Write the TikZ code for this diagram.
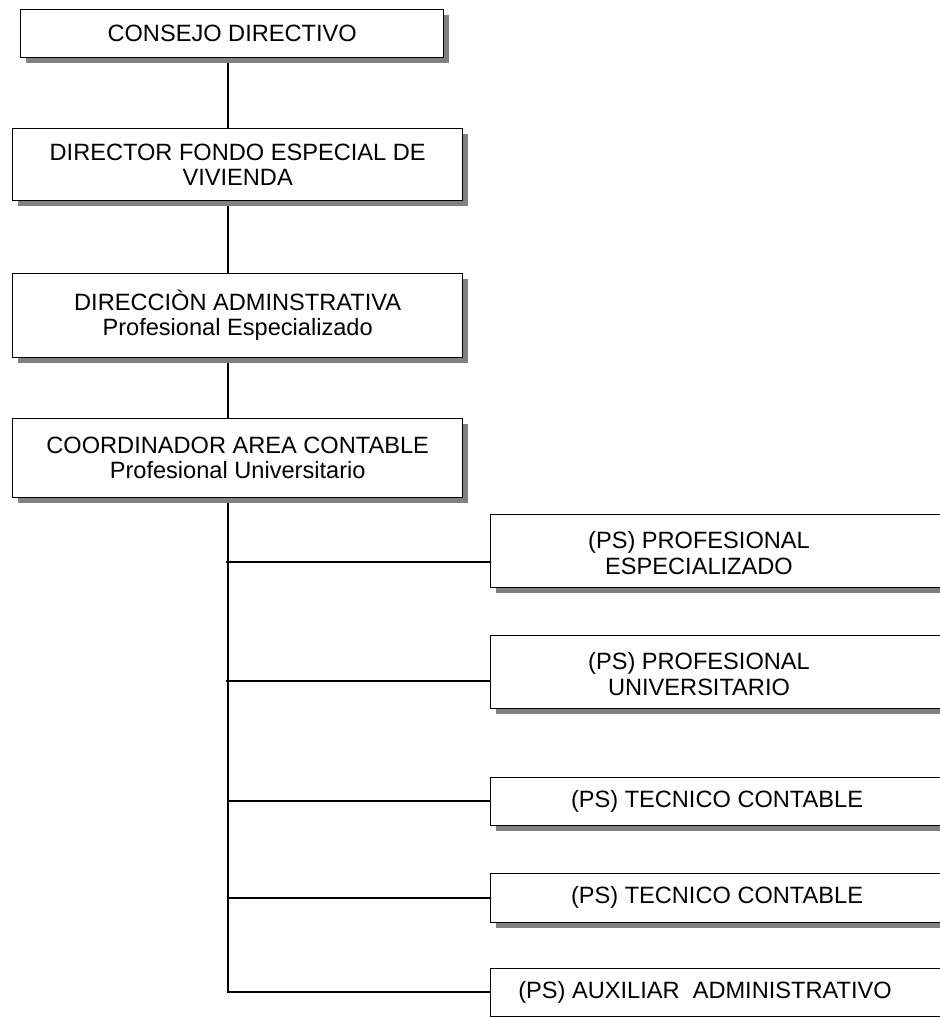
\documentclass[tikz,border=0pt]{standalone}
\usepackage{fontspec}
\setmainfont{Liberation Sans}
\usetikzlibrary{shadows,backgrounds}
\definecolor{shadowgray}{RGB}{128,128,128}
\tikzset{
	box/.style={draw, fill=white, line width=1pt, anchor=north west, align=center, inner sep=0pt,
		font=\fontsize{17.7}{18.75}\selectfont,
		drop shadow={shadow xshift=3.75pt, shadow yshift=-3.75pt, fill=shadowgray, opacity=1}},
	boxtext/.style={align=center, inner sep=0pt, font=\fontsize{17.7}{19.5}\selectfont},
	link/.style={line width=0.9pt},
}
\begin{document}
\begin{tikzpicture}[x=0.75pt,y=-0.75pt]
	\useasboundingbox (0,0) rectangle (939,1017);
	% left column
	\node [box, minimum width=317.25pt, minimum height=36pt] (consejo) at (20,9) {CONSEJO DIRECTIVO};
	\node [box, minimum width=337.5pt, minimum height=54pt] (director) at (12,128) {DIRECTOR FONDO ESPECIAL DE\\VIVIENDA};
	\node [box, minimum width=337.5pt, minimum height=63pt] (direccion) at (12,273) {DIRECCIÒN ADMINSTRATIVA\\Profesional Especializado};
	\node [box, minimum width=337.5pt, minimum height=59.25pt] (coord) at (12,418) {COORDINADOR AREA CONTABLE\\Profesional Universitario};
	% right column, cut off by the page edge
	\node [box, minimum width=390pt, minimum height=54.75pt] (espec) at (490,514) {};
	\node [box, minimum width=390pt, minimum height=54.75pt] (univ) at (490,635) {};
	\node [box, minimum width=390pt, minimum height=36pt] (tec1) at (490,777) {};
	\node [box, minimum width=390pt, minimum height=36.75pt] (tec2) at (490,873) {};
	\node [box, minimum width=390pt, minimum height=36pt] (aux) at (490,968) {};
	\node [boxtext] (espect) at (699,553) {(PS) PROFESIONAL\\ESPECIALIZADO};
	\node [boxtext] (univt) at (699,674) {(PS) PROFESIONAL\\UNIVERSITARIO};
	\node [boxtext] (tec1t) at (717,801) {(PS) TECNICO CONTABLE};
	\node [boxtext] (tec2t) at (717,897) {(PS) TECNICO CONTABLE};
	\node [boxtext] (auxt) at (705,992) {(PS) AUXILIAR\ \ ADMINISTRATIVO};
	% connectors
	\coordinate (trunk) at (228,0);
	\coordinate (j1) at (226,562);
	\coordinate (j2) at (226,681);
	\coordinate (j3) at (228,801);
	\coordinate (j4) at (228,898);
	\coordinate (j5) at (228,992);
	\begin{scope}[on background layer]
		\draw [link] (consejo.south -| trunk) -- (director.north -| trunk);
		\draw [link] (director.south -| trunk) -- (direccion.north -| trunk);
		\draw [link] (direccion.south -| trunk) -- (coord.north -| trunk);
		\draw [link] (coord.south -| trunk) -- (j5) -- (j5 -| aux.west);
		\draw [link] (j1) -- (j1 -| espec.west);
		\draw [link] (j2) -- (j2 -| univ.west);
		\draw [link] (j3) -- (j3 -| tec1.west);
		\draw [link] (j4) -- (j4 -| tec2.west);
	\end{scope}
\end{tikzpicture}
\end{document}
